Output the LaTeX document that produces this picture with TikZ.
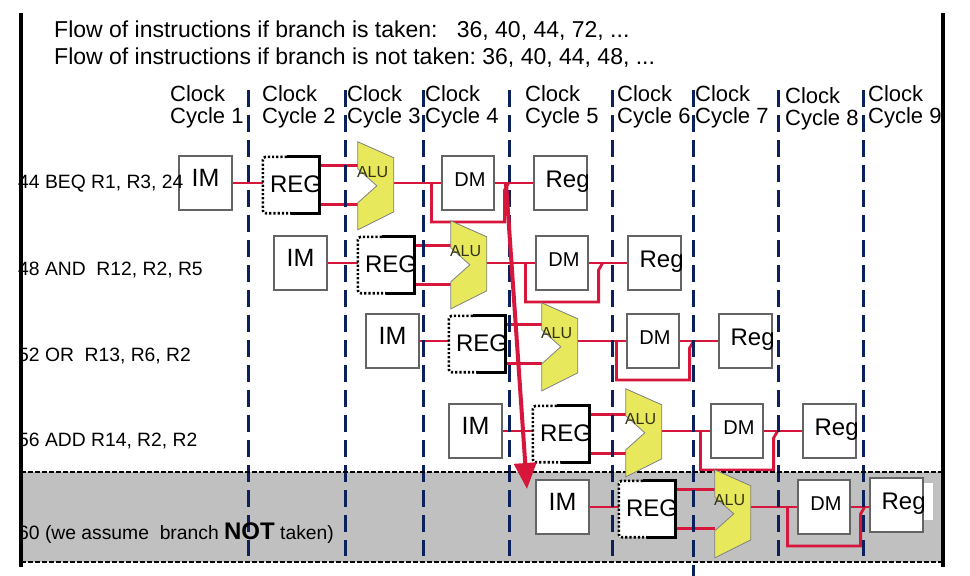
\documentclass[tikz,border=0pt]{standalone}
\usepackage{fontspec}
\setmainfont{Liberation Sans}
\usetikzlibrary{arrows.meta,calc}
\pgfdeclarelayer{bandlayer}
\pgfdeclarelayer{redlayer}
\pgfdeclarelayer{navylayer}
\pgfsetlayers{bandlayer,redlayer,navylayer,main}
\definecolor{pipered}{RGB}{214,22,58}
\definecolor{navyd}{RGB}{12,32,92}
\definecolor{aluyel}{RGB}{232,232,92}
\definecolor{bandgray}{RGB}{192,192,192}
\definecolor{boxgray}{RGB}{100,100,100}
\definecolor{alutext}{RGB}{50,50,20}
\begin{document}
\begin{tikzpicture}[x=1pt,y=-1pt,
  stagebox/.style={draw=boxgray,line width=1.2pt,fill=white,inner sep=0pt,minimum width=53pt,minimum height=54pt},
  regbox/.style={draw=none,fill=white,inner sep=0pt,minimum width=56pt,minimum height=56pt},
  alubox/.style={draw=none,inner sep=0pt,minimum width=36pt,minimum height=88pt},
  alushape/.style={fill=aluyel,draw=gray,line width=0.8pt,line join=miter},
  regsolid/.style={draw=black,line width=2.8pt},
  regdot/.style={draw=black,line width=2.6pt,dash pattern=on 2.2pt off 2pt,rounded corners=3pt},
  redline/.style={draw=pipered,line width=2.8pt},
  bigarrow/.style={draw=pipered,fill=pipered,line width=4pt,-{Triangle[width=22pt,length=26pt]}},
  cycline/.style={draw=navyd,line width=3pt,dash pattern=on 17pt off 8pt},
  banddash/.style={draw=black,line width=1.6pt,dash pattern=on 5pt off 2pt},
  frameline/.style={draw=black,line width=3.4pt},
  hdr/.style={anchor=base west,inner sep=0pt,font=\fontsize{22}{22}\selectfont},
  toptext/.style={anchor=base west,inner sep=0pt,font=\fontsize{23}{23}\selectfont\frenchspacing},
  rowlab/.style={anchor=base west,inner sep=0pt,font=\fontsize{19.3}{19.3}\selectfont\frenchspacing},
  imtxt/.style={anchor=base,inner sep=0pt,font=\fontsize{25}{25}\selectfont},
  regtxt/.style={anchor=base west,inner sep=0pt,font=\fontsize{24}{24}\selectfont},
  dmtxt/.style={anchor=base,inner sep=0pt,font=\fontsize{20}{20}\selectfont},
  rgtxt/.style={anchor=base west,inner sep=0pt,font=\fontsize{24}{24}\selectfont},
  alutxt/.style={anchor=base west,inner sep=0pt,text=alutext,font=\fontsize{16}{16}\selectfont}]
\useasboundingbox (0,0) rectangle (970,576);

% background and grey band for the not-taken instruction
\begin{pgfonlayer}{bandlayer}
\fill[white] (0,0) rectangle (970,576);
\fill[bandgray] (21,472) rectangle (943,562);
\end{pgfonlayer}

% clock cycle separators
\begin{pgfonlayer}{navylayer}
\foreach \x in {248,345,423,509,612,778,863} \draw[cycline] (\x,90) -- (\x,556);
\draw[cycline] (693,90) -- (693,576);
\draw[banddash] (21,472) -- (943,472);
\draw[banddash] (21,562) -- (943,562);
\end{pgfonlayer}

% header texts
\node[toptext] (flowa) at (54,37) {Flow of instructions if branch is taken: \ \ 36, 40, 44, 72, ...};
\node[toptext] (flowb) at (54,64) {Flow of instructions if branch is not taken: 36, 40, 44, 48, ...};
\foreach \x/\yb/\n in {170/101/1,262/101/2,347/101/3,425/101/4,525/101/5,617/101/6,695/101/7,785/103/8,868/101/9}{
  \node[hdr] (clk\n) at (\x,\yb) {Clock};
  \node[hdr] (cyc\n) at (\x,\yb+22) {Cycle \n};
}

% white patch behind last Reg
\fill[white] (900,483) rectangle (933,520);

% pipeline rows
\foreach \r/\ix/\iy/\gx/\gy/\ax/\ay/\dx/\dy/\px/\py in {
  1/179/156/263/157/358/142/442/156/534/156,
  2/274/236/358/237/451/221/536/236/628/236,
  3/366/314/449/316/542/303/627/314/719/314,
  4/449/404/533/406/626/389/711/404/803/404,
  5/536/480/619/481/715/470/798/480/870/478}{
  \node[stagebox] (im\r) at (\ix+26.5,\iy+27) {};
  \node[imtxt] (imt\r) at ($(im\r.north)+(0,31)$) {IM};
  \node[regbox] (reg\r) at (\gx+28,\gy+28) {};
  \draw[regsolid] ($(reg\r.north west)+(24,0)$) -- (reg\r.north east) -- (reg\r.south east) -- ($(reg\r.south west)+(28,0)$);
  \draw[regdot] ($(reg\r.north west)+(24,0)$) -- (reg\r.north west) -- (reg\r.south west) -- ($(reg\r.south west)+(28,0)$);
  \node[regtxt] (regt\r) at ($(reg\r.north west)+(7,36)$) {REG};
  \node[alubox] (alu\r) at (\ax+18,\ay+44) {};
  \filldraw[alushape] (alu\r.north west) -- ++(36,16) -- ++(0,54) -- ++(-36,18) -- ++(0,-27) -- ++(19,-17) -- ++(-19,-17) -- cycle;
  \node[alutxt] (alut\r) at ($(alu\r.north west)+(-1,36)$) {ALU};
  \node[stagebox,minimum width=52pt] (dm\r) at (\dx+26,\dy+27) {};
  \node[dmtxt] (dmt\r) at ($(dm\r.north)+(2,31)$) {DM};
  \node[stagebox] (rg\r) at (\px+26.5,\py+27) {};
  \node[rgtxt] (rgt\r) at ($(rg\r.north west)+(12,32)$) {Reg};
  \coordinate (rga\r) at ($(reg\r.north east)+(0,9)$);
  \coordinate (rgb\r) at ($(reg\r.north east)+(0,48)$);
  \begin{pgfonlayer}{redlayer}
    \draw[redline] (im\r.east) -- (im\r.east -| reg\r.west);
    \draw[redline] (rga\r) -- (rga\r -| alu\r.west);
    \draw[redline] (rgb\r) -- (rgb\r -| alu\r.west);
    \draw[redline] (dm\r.west -| alu\r.east) -- (dm\r.west);
    \draw[redline] ($(dm\r.west)+(-10,0)$) -- ++(0,39) -| ($(dm\r.east)+(10,7)$) -- ($(dm\r.east)+(14,0)$);
    \draw[redline] (dm\r.east) -- (dm\r.east -| rg\r.west);
  \end{pgfonlayer}
}

% row labels
\node[rowlab] (lab1) at (18,188) {44 BEQ R1, R3, 24};
\node[rowlab] (lab2) at (18,275) {48 AND \ R12, R2, R5};
\node[rowlab] (lab3) at (18,361) {52 OR \ R13, R6, R2};
\node[rowlab] (lab4) at (18,446) {56 ADD R14, R2, R2};
\node[rowlab] (lab5) at (18,539) {60 (we assume \ branch {\fontsize{24}{24}\selectfont\bfseries NOT} taken)};

% branch arrow
\coordinate (brfrom) at (506,183);
\coordinate (brto) at (527,489);
\draw[bigarrow] (brfrom) -- (brto);

% frame
\draw[frameline] (21,13) -- (21,567);
\draw[frameline] (943,13) -- (943,567);
\end{tikzpicture}
\end{document}
